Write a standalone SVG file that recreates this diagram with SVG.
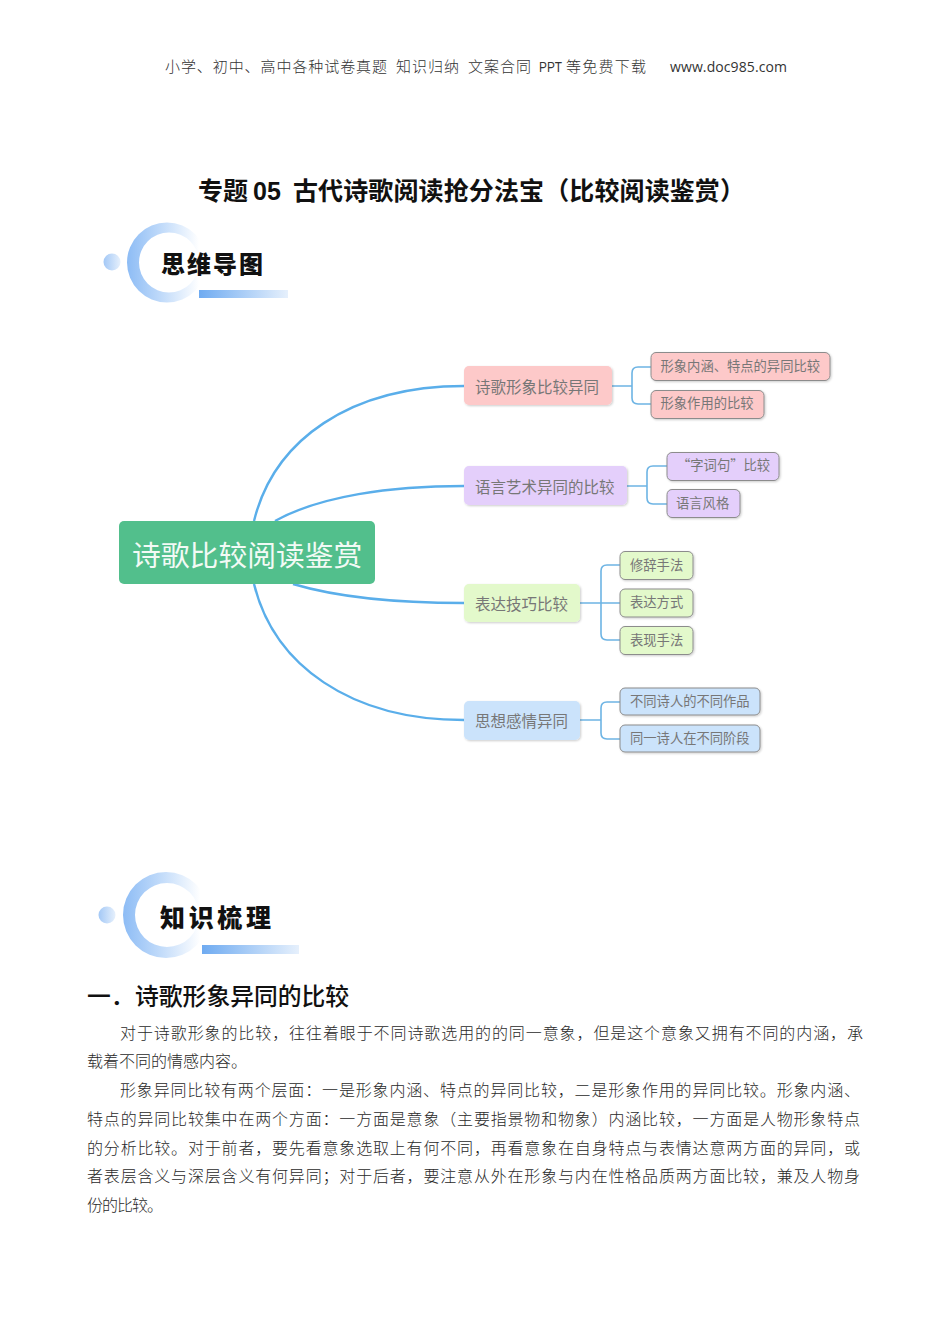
<svg xmlns="http://www.w3.org/2000/svg" width="950" height="1344" viewBox="0 0 950 1344">
<style>
text{font-family:"Noto Sans CJK SC","Liberation Sans",sans-serif}
.b{font-size:16px;fill:#2a2a2a;font-weight:300}
.h{font-size:15px;fill:#333;font-weight:300}
.m{font-size:15.5px;fill:#777}
.s{font-size:13.3px;fill:#777}
.c1{fill:none;stroke:#5aaeea;stroke-width:2.4}
.c2{fill:none;stroke:#6db4e4;stroke-width:1.6}
.sub{stroke:#8c8c8c;stroke-width:1;filter:url(#sh)}
.main{filter:url(#sh)}
</style>
<defs>
<filter id="sh" x="-10%" y="-15%" width="120%" height="135%"><feDropShadow dx="1" dy="1" stdDeviation="0.8" flood-color="#000" flood-opacity="0.2"/></filter>
<linearGradient id="ring"><stop offset="0" stop-color="#8dbcf5"/><stop offset="0.45" stop-color="#c3dcfa"/><stop offset="0.9" stop-color="#fff"/></linearGradient>
<linearGradient id="dot"><stop offset="0" stop-color="#a3c8f6"/><stop offset="1" stop-color="#e6f0fc"/></linearGradient>
<linearGradient id="bar"><stop offset="0" stop-color="#6fabf1"/><stop offset="1" stop-color="#e6f0fc"/></linearGradient>
</defs>
<rect width="950" height="1344" fill="#fff"/>

<g id="header">
<text class="h" x="165" y="72" textLength="222" lengthAdjust="spacing">小学、初中、高中各种试卷真题</text>
<text class="h" x="396" y="72" textLength="63" lengthAdjust="spacing">知识归纳</text>
<text class="h" x="468" y="72" textLength="63" lengthAdjust="spacing">文案合同</text>
<text class="h" x="539" y="72" style="font-family:'Liberation Sans',sans-serif;font-weight:400" font-size="13" textLength="23" lengthAdjust="spacingAndGlyphs">PPT</text>
<text class="h" x="566" y="72" textLength="80" lengthAdjust="spacing">等免费下载</text>
<text x="670" y="72" font-size="14" fill="#333" textLength="117" lengthAdjust="spacing" style="font-family:'Open Sans','Liberation Sans',sans-serif">www.doc985.com</text>
</g>
<g id="title">
<text x="198" y="200" font-size="25" font-weight="700" fill="#111">专题</text>
<text x="253" y="200" font-size="25" font-weight="700" fill="#111" style="font-family:'Liberation Sans',sans-serif">05</text>
<text x="293" y="200" font-size="25" font-weight="700" fill="#111" textLength="452" lengthAdjust="spacing">古代诗歌阅读抢分法宝（比较阅读鉴赏）</text>
</g>

<g id="badge-mindmap">
<circle cx="112" cy="262" r="8.5" fill="url(#dot)"/>
<path fill="url(#ring)" fill-rule="evenodd" d="M127 262.500a40 40 0 1 0 80 0a40 40 0 1 0-80 0ZM139 262.500a30 30 0 1 0 60 0a30 30 0 1 0-60 0Z"/>
<rect x="199" y="290" width="89" height="8" fill="url(#bar)"/>
<text x="161" y="273" font-size="24" font-weight="900" fill="#111" textLength="102" lengthAdjust="spacing">思维导图</text>
</g>

<g id="connectors">
<path class="c1" d="M254 521C274 440 350 386 464 386"/>
<path class="c1" d="M275 521C320 496 390 486 464 486"/>
<path class="c1" d="M293 584C340 598 400 603 464 603"/>
<path class="c1" d="M254 584C274 665 350 720 464 720"/>
<path class="c2" d="M612 386H632M651 367H638Q632 367 632 373V398Q632 404 638 404H651"/>
<path class="c2" d="M627 486H647M667 466H653Q647 466 647 472V498Q647 504 653 504H667"/>
<path class="c2" d="M580 603H620M620 565H607Q601 565 601 571V634Q601 640 607 640H620"/>
<path class="c2" d="M580 720H601M620 702H607Q601 702 601 708V733Q601 739 607 739H620"/>
</g>

<g id="root"><rect x="119" y="521" width="256" height="63" rx="5" fill="#52bf8c"/><text x="132" y="566" font-size="28.8" fill="#f2faf5" font-weight="400">诗歌比较阅读鉴赏</text></g>

<g id="n1"><rect class="main" x="464" y="366" width="148" height="39" rx="5" fill="#fdc9c9"/><text class="m" x="475" y="393">诗歌形象比较异同</text></g>
<g id="n1a"><rect class="sub" x="651" y="352.500" width="179" height="28" rx="5" fill="#fdc9c9"/><text class="s" x="660.500" y="371">形象内涵、特点的异同比较</text></g>
<g id="n1b"><rect class="sub" x="651" y="390.500" width="113" height="28" rx="5" fill="#fdc9c9"/><text class="s" x="660.500" y="408">形象作用的比较</text></g>

<g id="n2"><rect class="main" x="464" y="466" width="163" height="39" rx="5" fill="#e4cffb"/><text class="m" x="475" y="492.500">语言艺术异同的比较</text></g>
<g id="n2a"><rect class="sub" x="667" y="452.500" width="112" height="28" rx="5" fill="#e4cffb"/><text class="s" x="677" y="470">“字词句”比较</text></g>
<g id="n2b"><rect class="sub" x="667" y="489.500" width="73" height="28" rx="5" fill="#e4cffb"/><text class="s" x="676" y="508">语言风格</text></g>

<g id="n3"><rect class="main" x="464" y="584" width="116" height="38" rx="5" fill="#e3f9cb"/><text class="m" x="475" y="610">表达技巧比较</text></g>
<g id="n3a"><rect class="sub" x="620" y="551.500" width="73" height="28" rx="5" fill="#e3f9cb"/><text class="s" x="630" y="570">修辞手法</text></g>
<g id="n3b"><rect class="sub" x="620" y="589" width="73" height="28" rx="5" fill="#e3f9cb"/><text class="s" x="630" y="607">表达方式</text></g>
<g id="n3c"><rect class="sub" x="620" y="626.500" width="73" height="28" rx="5" fill="#e3f9cb"/><text class="s" x="630" y="645">表现手法</text></g>

<g id="n4"><rect class="main" x="464" y="701" width="116" height="39" rx="5" fill="#cbe3fb"/><text class="m" x="475" y="727">思想感情异同</text></g>
<g id="n4a"><rect class="sub" x="620" y="688" width="140" height="27" rx="5" fill="#cbe3fb"/><text class="s" x="630" y="706">不同诗人的不同作品</text></g>
<g id="n4b"><rect class="sub" x="620" y="725" width="140" height="27" rx="5" fill="#cbe3fb"/><text class="s" x="630" y="743">同一诗人在不同阶段</text></g>

<g id="badge-knowledge">
<circle cx="107" cy="915" r="8.500" fill="url(#dot)"/>
<path fill="url(#ring)" fill-rule="evenodd" d="M123 915a43 43 0 1 0 86 0a43 43 0 1 0-86 0ZM135 915a32 32 0 1 0 64 0a32 32 0 1 0-64 0Z"/>
<rect x="202" y="945" width="97" height="9" fill="url(#bar)"/>
<text x="160" y="927" font-size="25" font-weight="900" fill="#111" textLength="111" lengthAdjust="spacing">知识梳理</text>
</g>

<g id="heading">
<text x="87" y="1005" font-size="23.800" font-weight="500" fill="#111">一．</text>
<text x="135" y="1005" font-size="23.800" font-weight="500" fill="#111">诗歌形象异同的比较</text>
</g>
<g id="body">
<text class="b" x="120" y="1039" textLength="743" lengthAdjust="spacing">对于诗歌形象的比较，往往着眼于不同诗歌选用的的同一意象，但是这个意象又拥有不同的内涵，承</text>
<text class="b" x="87" y="1067" textLength="160" lengthAdjust="spacing">载着不同的情感内容。</text>
<text class="b" x="120" y="1096" textLength="740" lengthAdjust="spacing">形象异同比较有两个层面：一是形象内涵、特点的异同比较，二是形象作用的异同比较。形象内涵、</text>
<text class="b" x="87" y="1125" textLength="773" lengthAdjust="spacing">特点的异同比较集中在两个方面：一方面是意象（主要指景物和物象）内涵比较，一方面是人物形象特点</text>
<text class="b" x="87" y="1154" textLength="773" lengthAdjust="spacing">的分析比较。对于前者，要先看意象选取上有何不同，再看意象在自身特点与表情达意两方面的异同，或</text>
<text class="b" x="87" y="1182" textLength="773" lengthAdjust="spacing">者表层含义与深层含义有何异同；对于后者，要注意从外在形象与内在性格品质两方面比较，兼及人物身</text>
<text class="b" x="87" y="1211" textLength="76" lengthAdjust="spacing">份的比较。</text>
</g>
</svg>
